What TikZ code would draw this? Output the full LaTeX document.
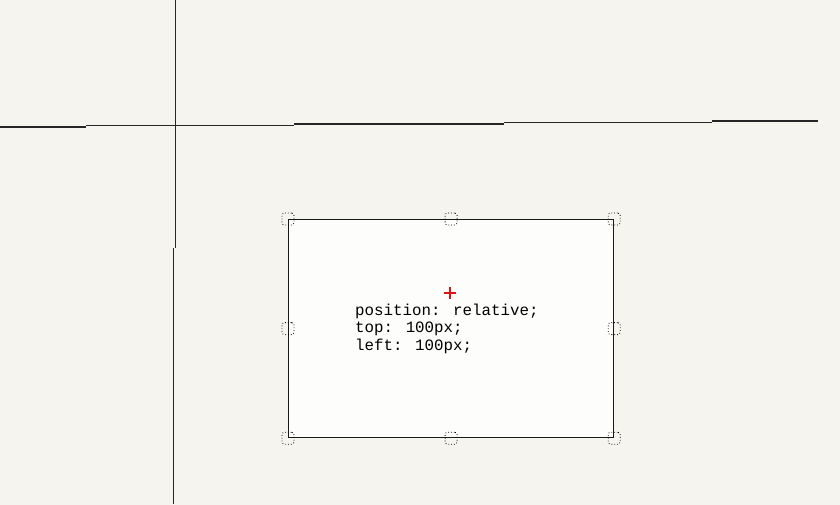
\documentclass[tikz,border=0pt]{standalone}
\usepackage{fontspec}
\newfontfamily\cssmono{Liberation Mono}
\usepackage{tikz}
\definecolor{paper}{RGB}{245, 244, 238}
\definecolor{boxfill}{RGB}{253, 254, 251}
\definecolor{crossred}{RGB}{220, 20, 20}

\begin{document}
\begin{tikzpicture}[x = 1pt, y = -1pt,
	handle/.style = {draw, line width = 0.8pt, dotted, rounded corners = 2.5pt, minimum size = 12pt, inner sep = 0pt},
	guide/.style = {line width = 1.5pt, black!85}]
	\fill[paper] (0, 0) rectangle (840, 505);
	\useasboundingbox (0, 0) rectangle (840, 505);
	% guide lines
	\draw[guide] (175.5, 0) -- (175.5, 248);
	\draw[guide] (173.5, 248) -- (173.5, 504);
	\draw[guide] (0, 127) -- (86, 127);
	\draw[guide] (86, 125.5) -- (294, 125.5);
	\draw[guide] (294, 124) -- (504, 124);
	\draw[guide] (504, 122.5) -- (712, 122.5);
	\draw[guide] (712, 121) -- (818, 121);
	% the box
	\node[draw, line width = 1.2pt, black!90, fill = boxfill, anchor = north west, inner sep = 0pt,
		minimum width = 325pt, minimum height = 218pt] (box) at (288, 219) {};
	\foreach \a [count = \i] in {north west, north, north east, west, east, south west, south, south east}
		\node[handle] (h\i) at (box.\a) {};
	\coordinate (cross) at (450, 293);
	\draw[crossred, line width = 2.2pt] (444, 293) -- (456, 293) (450, 287) -- (450, 299);
	\node[anchor = north west, align = left, inner sep = 0pt,
		font = \cssmono\fontsize{15.8}{17.5}\selectfont] (css) at (355, 303.5)
		{position: relative;\\top: 100px;\\left: 100px;};
\end{tikzpicture}
\end{document}
